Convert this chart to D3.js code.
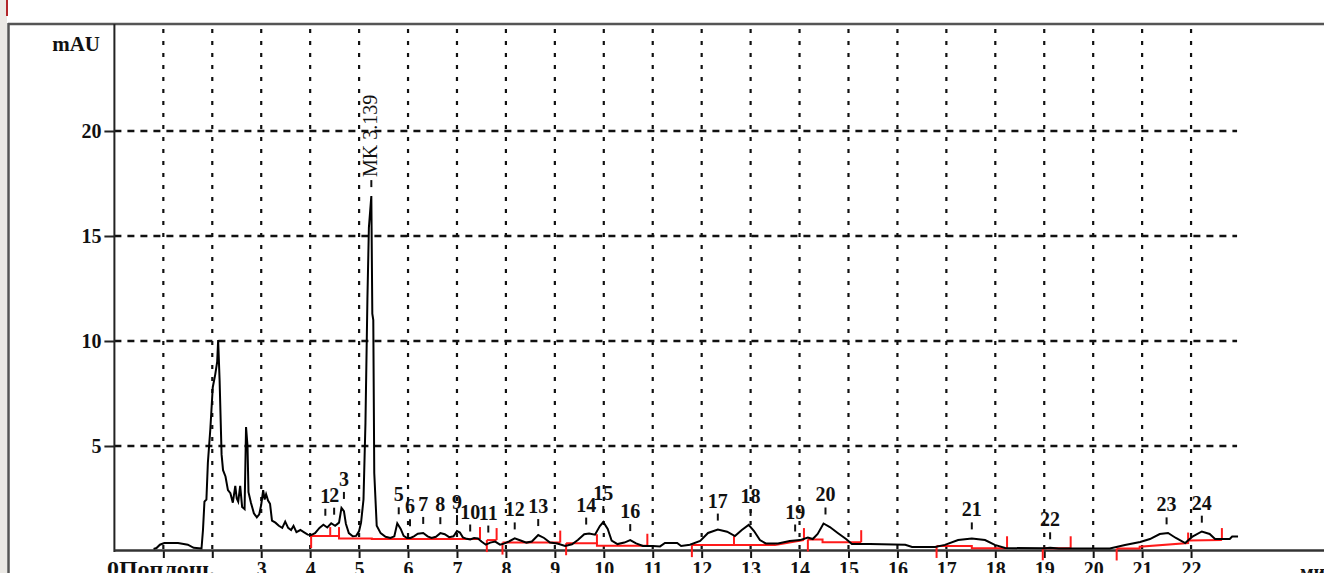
<!DOCTYPE html>
<html>
<head>
<meta charset="utf-8">
<script src="https://cdnjs.cloudflare.com/ajax/libs/d3/7.8.5/d3.min.js"></script>
<style>
body { margin: 0; background: #fff; overflow: hidden; }
svg text { font-family: "Liberation Serif", "DejaVu Serif", serif; fill: #111; }
</style>
</head>
<body>
<div id="chart"></div>
<script>
// chromatogram trace, [min, mAU]
var signalPoints = [
    [0.80,0.10],[0.86,0.14],[0.93,0.30],[1.02,0.38],[1.30,0.38],[1.50,0.30],[1.62,0.15],[1.78,0.12],
    [1.81,1.00],[1.84,2.35],[1.88,2.45],[1.91,4.20],[1.96,5.80],[2.01,7.80],[2.06,8.40],[2.10,9.00],
    [2.12,10.05],[2.15,8.10],[2.19,4.60],[2.22,3.85],[2.27,3.55],[2.32,2.90],[2.37,2.75],[2.42,2.30],
    [2.47,3.10],[2.50,2.50],[2.53,2.35],[2.57,3.10],[2.61,2.10],[2.66,2.00],[2.69,5.90],[2.72,5.00],
    [2.74,2.80],[2.79,2.30],[2.85,1.80],[2.91,1.60],[2.96,1.75],[3.00,2.20],[3.04,2.90],[3.07,2.45],
    [3.10,2.70],[3.14,2.40],[3.18,2.25],[3.22,1.45],[3.29,1.35],[3.36,1.20],[3.43,1.10],[3.49,1.40],
    [3.55,1.10],[3.61,1.00],[3.66,1.20],[3.72,0.90],[3.80,1.00],[3.87,0.90],[3.95,0.78],[4.02,0.76],
    [4.10,0.85],[4.19,1.10],[4.27,1.25],[4.35,1.12],[4.43,1.32],[4.51,1.20],[4.59,1.35],[4.64,2.05],
    [4.69,1.90],[4.73,1.30],[4.79,0.85],[4.87,0.70],[4.94,0.72],[5.00,0.95],[5.04,1.35],[5.09,2.45],
    [5.13,6.10],[5.17,12.0],[5.20,15.40],[5.25,16.90],[5.27,11.30],[5.29,11.00],[5.31,3.70],[5.36,1.20],
    [5.44,0.85],[5.54,0.68],[5.64,0.62],[5.72,0.70],[5.78,1.32],[5.85,1.05],[5.91,0.72],[5.98,0.62],
    [6.05,0.62],[6.12,0.70],[6.20,0.82],[6.31,0.86],[6.40,0.70],[6.48,0.62],[6.57,0.68],[6.66,0.85],
    [6.75,0.80],[6.84,0.66],[6.93,0.70],[7.00,0.95],[7.06,0.88],[7.12,0.65],[7.20,0.58],[7.27,0.55],
    [7.35,0.62],[7.43,0.60],[7.50,0.45],[7.59,0.30],[7.68,0.40],[7.78,0.45],[7.88,0.30],[7.96,0.35],
    [8.05,0.44],[8.18,0.60],[8.30,0.50],[8.42,0.40],[8.53,0.45],[8.66,0.76],[8.78,0.62],[8.90,0.40],
    [9.05,0.36],[9.21,0.24],[9.35,0.32],[9.47,0.52],[9.60,0.80],[9.70,0.83],[9.82,0.78],[9.92,1.19],
    [9.99,1.38],[10.08,1.05],[10.16,0.50],[10.28,0.33],[10.42,0.40],[10.54,0.52],[10.66,0.36],[10.80,0.24],
    [11.00,0.24],[11.15,0.22],[11.25,0.38],[11.50,0.38],[11.58,0.24],[11.76,0.30],[11.97,0.48],[12.13,0.86],
    [12.33,1.02],[12.52,0.92],[12.68,0.71],[12.82,1.00],[12.96,1.24],[13.07,0.95],[13.19,0.52],[13.31,0.36],
    [13.56,0.36],[13.80,0.48],[14.01,0.52],[14.17,0.64],[14.27,0.57],[14.37,0.81],[14.49,1.31],[14.62,1.14],
    [14.78,0.86],[14.95,0.57],[15.07,0.33],[15.44,0.33],[16.16,0.30],[16.30,0.19],[16.77,0.19],[16.97,0.29],
    [17.24,0.52],[17.52,0.60],[17.79,0.52],[17.99,0.29],[18.20,0.14],[19.01,0.13],[19.12,0.15],[19.30,0.12],
    [20.34,0.12],[20.65,0.29],[20.96,0.43],[21.16,0.57],[21.36,0.81],[21.53,0.86],[21.69,0.62],[21.88,0.38],
    [22.02,0.67],[22.22,0.93],[22.38,0.81],[22.49,0.57],[22.79,0.57],[22.84,0.69],[22.96,0.69]
];

// integration baselines (red), one array per group
var baselineGroups = [
    [[4.02,0.71],[4.59,0.71],[4.59,0.60],[5.26,0.60],[5.26,0.57],[7.47,0.57]],
    [[7.61,0.52],[7.81,0.52]],
    [[7.93,0.40],[9.11,0.40]],
    [[9.23,0.37],[9.86,0.37],[9.86,0.25],[10.89,0.25]],
    [[11.80,0.28],[13.50,0.28],[14.09,0.52]],
    [[14.17,0.55],[14.47,0.55],[14.47,0.42],[15.26,0.42]],
    [[16.80,0.24],[17.52,0.24],[17.52,0.13],[18.24,0.13]],
    [[18.97,0.13],[19.54,0.13]],
    [[20.48,0.12],[20.95,0.12],[20.95,0.20],[21.94,0.38],[21.94,0.50],[22.63,0.52]]
];
var baselineSplits = [[4.41,0.71],[4.59,0.71],[9.86,0.37],[12.66,0.28],[21.94,0.45]];

// peak labels
var peakNames   = ["1","2","3","MK 3.139","5","6","7","8","9","10","11","12","13","14","15","16","17","18","19","20","21","22","23","24"];
var peakTimes   = [4.31,4.49,4.69,5.25,5.81,6.04,6.31,6.66,7.00,7.27,7.64,8.18,8.66,9.64,9.99,10.54,12.33,13.00,13.91,14.53,17.52,19.12,21.50,22.22];
var peakHeights = [1.25,1.30,2.05,16.90,1.32,0.75,0.86,0.85,0.95,0.50,0.45,0.60,0.76,0.83,1.38,0.52,1.02,1.24,0.50,1.31,0.60,0.13,0.84,0.92];

var yTicks = [5, 10, 15, 20];
var xTicks = [1,2,3,4,5,6,7,8,9,10,11,12,13,14,15,16,17,18,19,20,21,22];

var width = 1324, height = 573;

var svg = d3.select("#chart").append("svg")
    .attr("width", width)
    .attr("height", height);

var x = d3.scaleLinear().domain([0, 23]).range([114.4, 1240]);
var y = d3.scaleLinear().domain([0, 20]).range([551, 131]);

//window chrome on the left
svg.append("rect").attr("x", 0).attr("y", 0).attr("width", 7).attr("height", height).attr("fill", "#ebe9e5");
svg.append("rect").attr("x", 6).attr("y", 0).attr("width", 2).attr("height", 16).attr("fill", "#b3262a");

//frame
svg.append("line").attr("x1", 8).attr("x2", width).attr("y1", 24).attr("y2", 24)
    .attr("stroke", "#555").attr("stroke-width", 2.5);
svg.append("line").attr("x1", 8.5).attr("x2", 8.5).attr("y1", 23).attr("y2", height)
    .attr("stroke", "#555").attr("stroke-width", 2.5);

//grid
svg.append("g").selectAll("line").data(xTicks).enter().append("line")
    .attr("x1", function(d){ return x(d); })
    .attr("x2", function(d){ return x(d); })
    .attr("y1", 29).attr("y2", y(0))
    .attr("stroke", "#111").attr("stroke-width", 2.2)
    .attr("stroke-dasharray", "4,8");

svg.append("g").selectAll("line").data(yTicks).enter().append("line")
    .attr("x1", x(0)).attr("x2", x(22.94))
    .attr("y1", function(d){ return y(d); })
    .attr("y2", function(d){ return y(d); })
    .attr("stroke", "#111").attr("stroke-width", 2.5)
    .attr("stroke-dasharray", "7,6");

//axes
var yAxis = d3.axisLeft(y).tickValues(yTicks).tickSize(10).tickPadding(3);
var gy = svg.append("g").attr("transform", "translate(" + x(0) + ",0)").call(yAxis);
gy.select(".domain").remove();
gy.selectAll("line").attr("stroke", "#222").attr("stroke-width", 2);
gy.selectAll("text").style("font-size", "20px").style("font-weight", "bold")
    .style("font-family", "Liberation Serif").attr("fill", "#111");

var xAxis = d3.axisBottom(x).tickValues(xTicks).tickSize(7).tickPadding(4)
    .tickFormat(function(d){ return d < 3 ? "" : d; });
var gx = svg.append("g").attr("transform", "translate(0," + y(0) + ")").call(xAxis);
gx.select(".domain").remove();
gx.selectAll("line").attr("stroke", "#111").attr("stroke-width", 2);
gx.selectAll("text").style("font-size", "20px").style("font-weight", "bold")
    .style("font-family", "Liberation Serif").attr("fill", "#111");

svg.append("line").attr("x1", x(0)).attr("x2", x(0)).attr("y1", 24).attr("y2", y(0) + 1)
    .attr("stroke", "#222").attr("stroke-width", 2);
svg.append("line").attr("x1", x(0)).attr("x2", width).attr("y1", y(0) - 0.5).attr("y2", y(0) - 0.5)
    .attr("stroke", "#333").attr("stroke-width", 2.5);

svg.append("text").attr("x", 100).attr("y", 51).attr("text-anchor", "end")
    .style("font-size", "21px").style("font-weight", "bold").text("mAU");
svg.append("text").attr("x", 107).attr("y", 576)
    .attr("textLength", 108).attr("lengthAdjust", "spacingAndGlyphs")
    .style("font-size", "20px").style("font-weight", "bold").text("0Поплощ.");
svg.append("text").attr("x", 1300).attr("y", 579)
    .style("font-size", "20px").style("font-weight", "bold").text("мин");

//baselines
var line = d3.line()
    .x(function(d){ return x(d[0]); })
    .y(function(d){ return y(d[1]); });

var gb = svg.append("g").attr("class", "baselines");
baselineGroups.forEach(function(g){
    var first = g[0], last = g[g.length - 1];
    gb.append("path").attr("d", line(g))
        .attr("fill", "none").attr("stroke", "#ff1a1a").attr("stroke-width", 2);
    gb.append("line")
        .attr("x1", x(first[0])).attr("x2", x(first[0]))
        .attr("y1", y(first[1])).attr("y2", y(first[1]) + 12)
        .attr("stroke", "#ff1a1a").attr("stroke-width", 2);
    gb.append("line")
        .attr("x1", x(last[0])).attr("x2", x(last[0]))
        .attr("y1", y(last[1])).attr("y2", y(last[1]) - 12)
        .attr("stroke", "#ff1a1a").attr("stroke-width", 2);
});
gb.selectAll(".split").data(baselineSplits).enter().append("line")
    .attr("class", "split")
    .attr("x1", function(d){ return x(d[0]); })
    .attr("x2", function(d){ return x(d[0]); })
    .attr("y1", function(d){ return y(d[1]); })
    .attr("y2", function(d){ return y(d[1]) - 9; })
    .attr("stroke", "#ff1a1a").attr("stroke-width", 2);

//trace
svg.append("path").attr("d", line(signalPoints))
    .attr("fill", "none").attr("stroke", "#000").attr("stroke-width", 2)
    .attr("stroke-linejoin", "miter");

//peak labels
var gp = svg.append("g").attr("class", "peaks");
peakNames.forEach(function(name, i){
    var px = x(peakTimes[i]), py = y(peakHeights[i]);
    gp.append("line")
        .attr("x1", px).attr("x2", px)
        .attr("y1", py - 16).attr("y2", py - 9)
        .attr("stroke", "#111").attr("stroke-width", 2);
    if (name.length > 2){
        gp.append("text")
            .attr("transform", "translate(" + (px + 6) + "," + (py - 19) + ") rotate(-90)")
            .style("font-size", "20px")
            .text(name);
    }
    else{
        gp.append("text")
            .attr("x", px).attr("y", py - 22)
            .attr("text-anchor", "middle")
            .style("font-size", "20px").style("font-weight", "bold")
            .text(name);
    }
});
</script>
</body>
</html>
